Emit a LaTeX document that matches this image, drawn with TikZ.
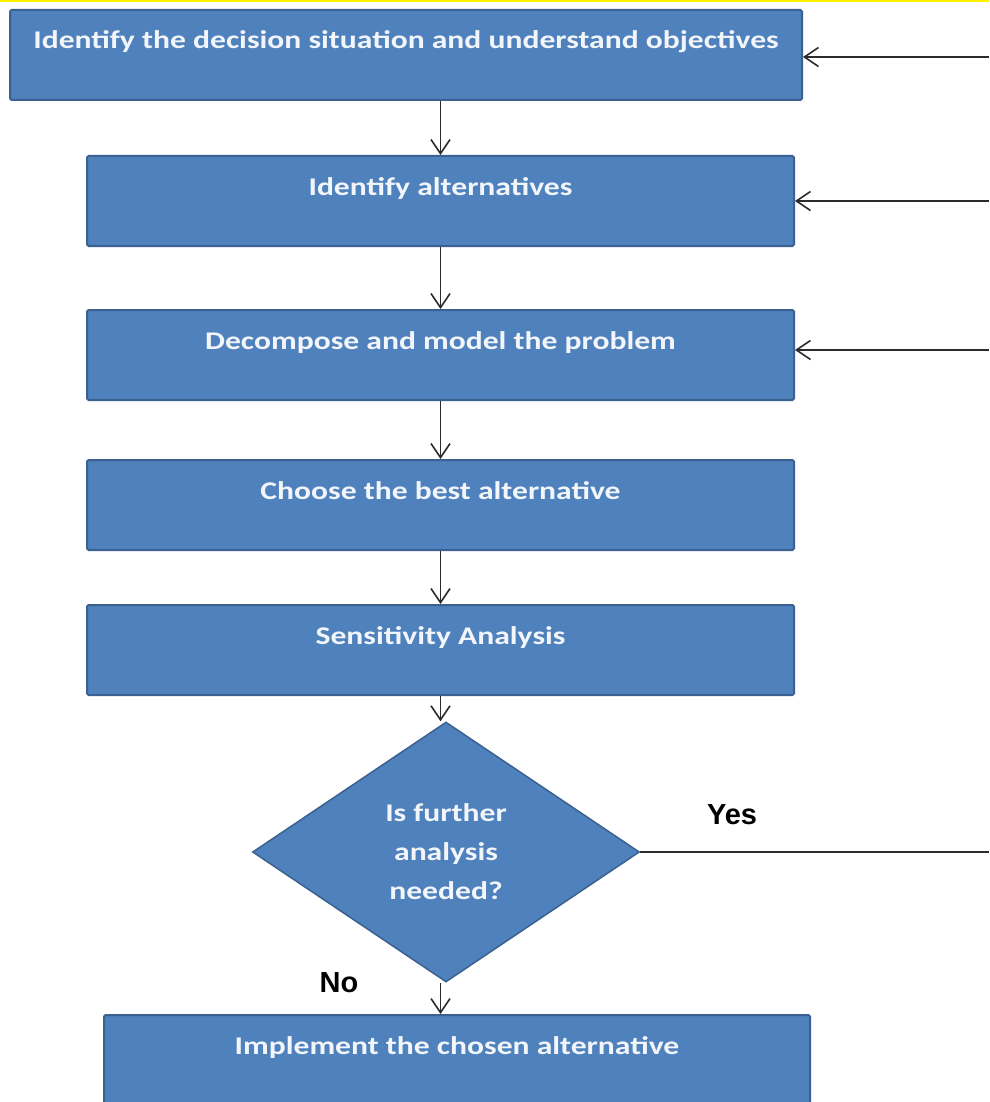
\documentclass[tikz,border=0pt]{standalone}
\usepackage{fontspec}
\setmainfont{Carlito}
\newfontfamily\boxfont{Carlito}[FakeStretch=1.24]
\newfontfamily\lblfont{Liberation Sans}
\usetikzlibrary{shapes.geometric,arrows.meta}
\definecolor{boxblue}{HTML}{4F81BD}
\definecolor{boxedge}{HTML}{3A6190}
\definecolor{boxtext}{HTML}{F2F5FA}
\definecolor{linegray}{HTML}{2B2B2B}
\tikzset{
  stepbox/.style={draw=boxedge, fill=boxblue, line width=2pt, rounded corners=1.5pt,
    text=boxtext, font=\boxfont\fontsize{25.5}{30}\selectfont\bfseries, inner sep=0pt,
    minimum height=90pt, text height=18pt, text depth=30pt},
  decision/.style={diamond, draw=boxedge, fill=boxblue, line width=1.5pt,
    text=boxtext, font=\boxfont\fontsize{25.5}{39}\selectfont\bfseries, align=center,
    minimum width=387pt, minimum height=260pt, inner sep=0pt},
  arr/.style={draw=linegray, line width=1.6pt, -{Straight Barb[length=14pt,width=19pt,line width=1.6pt]}},
  plain/.style={draw=linegray, line width=1.6pt},
  lbl/.style={font=\lblfont\fontsize{29}{32}\selectfont\bfseries, text=black, inner sep=0pt}
}
\begin{document}
\begin{tikzpicture}[x=1pt,y=-1pt]
\useasboundingbox (0,0) rectangle (989,1102);
\clip (0,0) rectangle (989,1102);
\fill[yellow] (0,0) rectangle (989,2.5);
\node[stepbox, minimum width=792pt] (b1) at (406,55) {Identify the decision situation and understand objectives};
\node[stepbox, minimum width=707pt] (b2) at (440.5,201) {Identify alternatives};
\node[stepbox, minimum width=707pt] (b3) at (440.5,355) {Decompose and model the problem};
\node[stepbox, minimum width=707pt] (b4) at (440.5,505) {Choose the best alternative};
\node[stepbox, minimum width=707pt] (b5) at (440.5,650) {Sensitivity Analysis};
\node[decision] (d) at (446,852) {Is further\\analysis\\needed?};
\node[stepbox, minimum width=706pt] (b6) at (457,1060) {Implement the chosen alternative};
\node[lbl] (yes) at (732,815) {Yes};
\node[lbl] (no) at (339,983) {No};
\coordinate (r1) at (989,57);
\coordinate (r2) at (989,201);
\coordinate (r3) at (989,350);
\draw[arr] (b1.south -| b2.center) -- (b2.north);
\draw[arr] (b2.south) -- (b3.north);
\draw[arr] (b3.south) -- (b4.north);
\draw[arr] (b4.south) -- (b5.north);
\draw[arr] (b5.south) -- (d.north -| b5.south);
\draw[arr] (d.south -| b5.south) -- (b6.north -| b5.south);
\draw[arr] (r1) -- (r1 -| b1.east);
\draw[arr] (r2) -- (b2.east);
\draw[arr] (r3) -- (r3 -| b3.east);
\draw[plain] (d.east) -- (d.east -| r1);
\end{tikzpicture}
\end{document}
